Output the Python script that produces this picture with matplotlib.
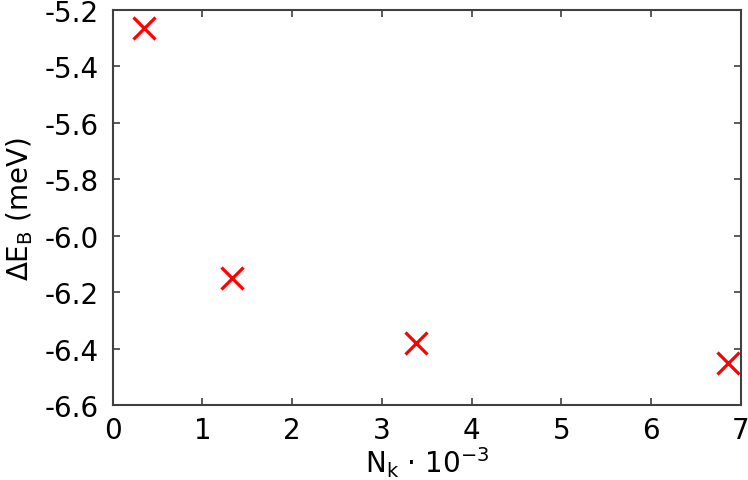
import numpy as np
import matplotlib
matplotlib.use('Agg')
import matplotlib.pyplot as plt

# Data
nk = [0.35, 1.333, 3.378, 6.86]              # N_k * 10^-3
delta_eb = [-5.265, -6.149, -6.379, -6.452]  # meV

x_ticks = [0, 1, 2, 3, 4, 5, 6, 7]
y_ticks = [-6.6, -6.4, -6.2, -6.0, -5.8, -5.6, -5.4, -5.2]

AXIS_COLOR = '#404040'
FS = 20

plt.rcParams['font.family'] = ['DejaVu Sans']
plt.rcParams['mathtext.fontset'] = 'dejavusans'

fig = plt.figure(figsize=(7.48, 4.81), dpi=100)
ax = fig.add_axes([0.1507, 0.1559, 0.8395, 0.8212])

ax.plot(nk, delta_eb, linestyle='none', marker='x', color='#ff0000',
        markersize=15.5, markeredgewidth=2.3, clip_on=False, zorder=3)

ax.set_xlim(0, 7)
ax.set_ylim(-6.6, -5.2)
ax.set_xticks(x_ticks)
ax.set_yticks(y_ticks)
ax.set_xticklabels([str(v) for v in x_ticks])
ax.set_yticklabels([f'{v:.1f}' for v in y_ticks])

for s in ax.spines.values():
    s.set_color(AXIS_COLOR)
    s.set_linewidth(1.5)

ax.tick_params(direction='in', length=5, width=1.2, color=AXIS_COLOR,
               top=True, right=True, labelsize=FS)
ax.tick_params(axis='y', pad=10)
ax.tick_params(axis='x', pad=8)

ax.set_xlabel('N$_\\mathrm{k}$ \u00b7 10$^{-3}$', fontsize=FS, labelpad=0)
ax.set_ylabel(r'$\Delta$E$_\mathrm{B}$ (meV)', fontsize=FS, labelpad=7)

fig.savefig('out.png', dpi=100, facecolor='white')
